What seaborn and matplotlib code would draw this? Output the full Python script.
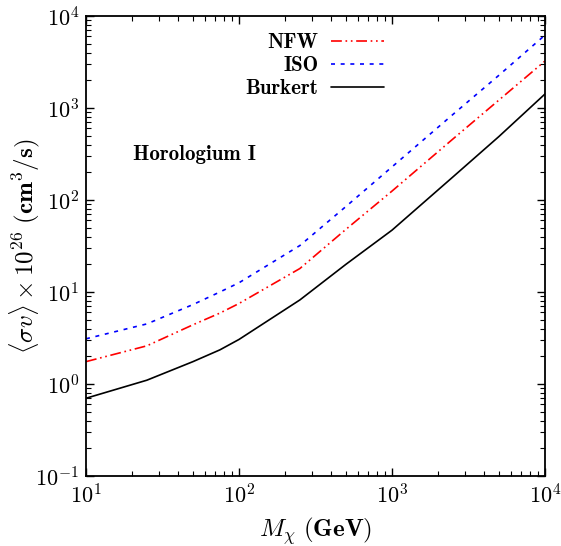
import matplotlib
matplotlib.use("Agg")
import matplotlib.pyplot as plt
import seaborn as sns
import numpy as np
import pandas as pd
from matplotlib.ticker import LogLocator, NullFormatter

# Data
mass = [10, 25, 50, 75, 100, 250, 500, 1000, 2500, 5000, 10000]
nfw = [1.75, 2.6, 4.4, 5.9, 7.5, 18, 48, 125, 460, 1220, 3240]
iso = [3.1, 4.5, 7.3, 10, 12.6, 32, 85, 229, 850, 2270, 6200]
burkert = [0.70, 1.1, 1.75, 2.35, 3.05, 8.2, 20, 47, 178, 490, 1420]
labels = ["NFW", "ISO", "Burkert"]

sns.set_theme(style="ticks")
plt.rcParams["mathtext.fontset"] = "cm"
plt.rcParams["font.family"] = ["cmr10", "DejaVu Serif"]
plt.rcParams["axes.formatter.use_mathtext"] = True
for k in ["text.color", "axes.labelcolor", "xtick.color", "ytick.color"]:
    plt.rcParams[k] = "black"

fig = plt.figure(figsize=(5.61, 5.46), dpi=100)
ax = fig.add_axes([86/561, 1-476/546, (545-86)/561, (476-16)/546])

series = [nfw, iso, burkert]
colors = ["#ff0000", "#0000ff", "#000000"]
dashes = [(6.5, 2.2, 1.0, 2.2, 1.0, 2.2), (2.4, 3.4), ""]
for vals, lab, col, d in zip(series, labels, colors, dashes):
    df = pd.DataFrame({"m": mass, "v": vals})
    sns.lineplot(data=df, x="m", y="v", ax=ax, color=col, label=lab, lw=1.2)
    ln = ax.lines[-1]
    if d:
        ln.set_dashes(d)

ax.set_xscale("log")
ax.set_yscale("log")
ax.set_xlim(10, 1e4)
ax.set_ylim(0.1, 1e4)

ax.xaxis.set_major_locator(LogLocator(base=10, numticks=10))
ax.yaxis.set_major_locator(LogLocator(base=10, numticks=10))
ax.xaxis.set_minor_locator(LogLocator(base=10, subs=np.arange(2, 10), numticks=20))
ax.yaxis.set_minor_locator(LogLocator(base=10, subs=np.arange(2, 10), numticks=20))
ax.xaxis.set_minor_formatter(NullFormatter())
ax.yaxis.set_minor_formatter(NullFormatter())

ax.tick_params(which="both", direction="in", top=True, right=True, colors="black")
ax.tick_params(which="major", length=6, width=1, labelsize=16, pad=5)
ax.tick_params(which="minor", length=3.5, width=0.8)
for s in ax.spines.values():
    s.set_linewidth(1.3)
    s.set_color("black")

ax.set_xlabel(r"$M_\chi\ \mathbf{(GeV)}$", fontsize=18, labelpad=6)
ax.set_ylabel(r"$\langle \sigma v\rangle \times \mathbf{10}^{\mathbf{26}}\ \mathbf{(cm}^{\mathbf{3}}\mathbf{/s)}$",
              fontsize=18)
ax.yaxis.set_label_coords(-0.095, 0.5)

leg = ax.legend(loc="upper right", bbox_to_anchor=(0.69, 1.004), frameon=False,
                markerfirst=False, handlelength=2.55, handletextpad=0.6,
                labelspacing=0.2, prop={"family": "cmb10", "size": 15})

ax.text(0.102, 0.698, "Horologium I", transform=ax.transAxes, ha="left", va="center",
        fontsize=15, family="cmb10")

fig.savefig("out.png", dpi=100)
